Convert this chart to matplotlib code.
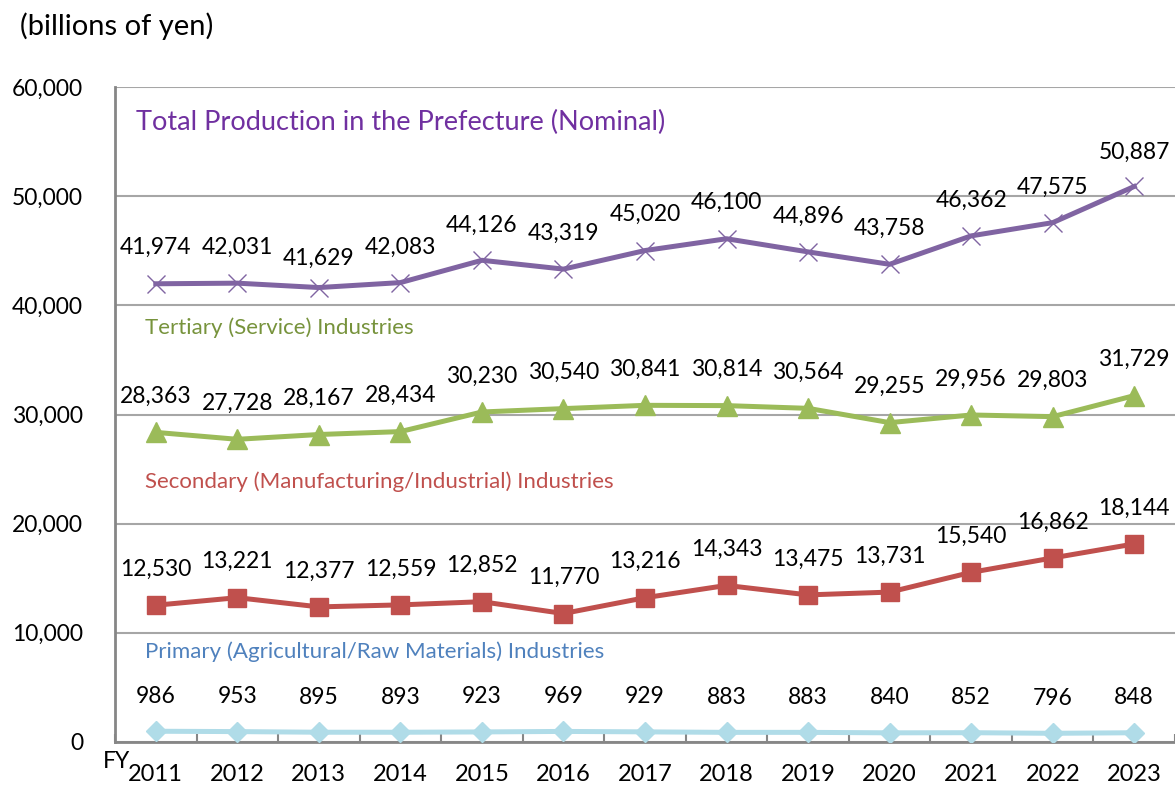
import numpy as np
import matplotlib.pyplot as plt

plt.rcParams['font.family'] = ['Lato', 'DejaVu Sans']

years = ['2011', '2012', '2013', '2014', '2015', '2016', '2017',
         '2018', '2019', '2020', '2021', '2022', '2023']
total = [41974, 42031, 41629, 42083, 44126, 43319, 45020,
         46100, 44896, 43758, 46362, 47575, 50887]
tertiary = [28363, 27728, 28167, 28434, 30230, 30540, 30841,
            30814, 30564, 29255, 29956, 29803, 31729]
secondary = [12530, 13221, 12377, 12559, 12852, 11770, 13216,
             14343, 13475, 13731, 15540, 16862, 18144]
primary = [986, 953, 895, 893, 923, 969, 929, 883, 883, 840, 852, 796, 848]

# label offsets above the point (pixels)
off_total = [36, 36, 29, 35, 35, 36, 36, 36, 36, 36, 36, 35, 34]
off_tert = [36] * 13
off_sec = [36] * 13
off_prim = [35] * 13

fig = plt.figure(figsize=(11.75, 7.87), dpi=100)
ax = fig.add_axes([115/1175, 1 - 742/787, 1060/1175, 655/787])
x = np.arange(len(years))

series = [
    (total, off_total, '#8064A2', 'x', 13, 1.0),
    (tertiary, off_tert, '#9BBB59', '^', 14, 1.0),
    (secondary, off_sec, '#C0504D', 's', 13, 1.0),
    (primary, off_prim, '#B0DCE8', 'D', 10, 1.0),
]
for vals, offs, col, mk, ms, mew in series:
    ax.plot(x, vals, color=col, lw=3.6, marker=mk, ms=ms, mew=mew,
            mec=col, mfc=col, zorder=3)
    for xi, v, o in zip(x, vals, offs):
        ax.annotate(f'{v:,}', (xi, v), xytext=(0, o * 0.72), textcoords='offset points',
                    ha='center', va='center', fontsize=16.5, color='black')

ax.set_xlim(-0.5, 12.5)
ax.set_ylim(0, 60000)
ax.set_yticks(range(0, 60001, 10000))
ax.set_yticklabels([f'{t:,}' for t in range(0, 60001, 10000)])
ax.yaxis.grid(True, color='#A6A6A6', lw=1.5)
ax.set_axisbelow(True)
ax.set_xticks(x)
ax.set_xticklabels(years)
ax.set_xticks(np.arange(-0.5, 13, 1), minor=True)
ax.tick_params(axis='x', which='major', length=0, labelsize=17, pad=16)
ax.tick_params(axis='x', which='minor', length=6, direction='in', color='#868686', width=1.5)
ax.tick_params(axis='y', length=0, labelsize=16.5, pad=23)
for s in ['top', 'right']:
    ax.spines[s].set_visible(False)
for s in ['left', 'bottom']:
    ax.spines[s].set_color('#868686')
    ax.spines[s].set_linewidth(2)

ax.text(0.02, 0.946, 'Total Production in the Prefecture (Nominal)', transform=ax.transAxes,
        color='#7030A0', fontsize=19.5, va='center')
ax.text(0.028, 0.632, 'Tertiary (Service) Industries', transform=ax.transAxes,
        color='#77933C', fontsize=16, va='center')
ax.text(0.028, 0.398, 'Secondary (Manufacturing/Industrial) Industries', transform=ax.transAxes,
        color='#C0504D', fontsize=16, va='center')
ax.text(0.028, 0.138, 'Primary (Agricultural/Raw Materials) Industries', transform=ax.transAxes,
        color='#4F81BD', fontsize=16, va='center')

fig.text(20/1175, 1 - 26/787, '(billions of yen)', fontsize=21, va='center')
fig.text(103/1175, 1 - 762/787, 'FY', fontsize=16.5, va='center')

fig.savefig('out.png', dpi=100)
